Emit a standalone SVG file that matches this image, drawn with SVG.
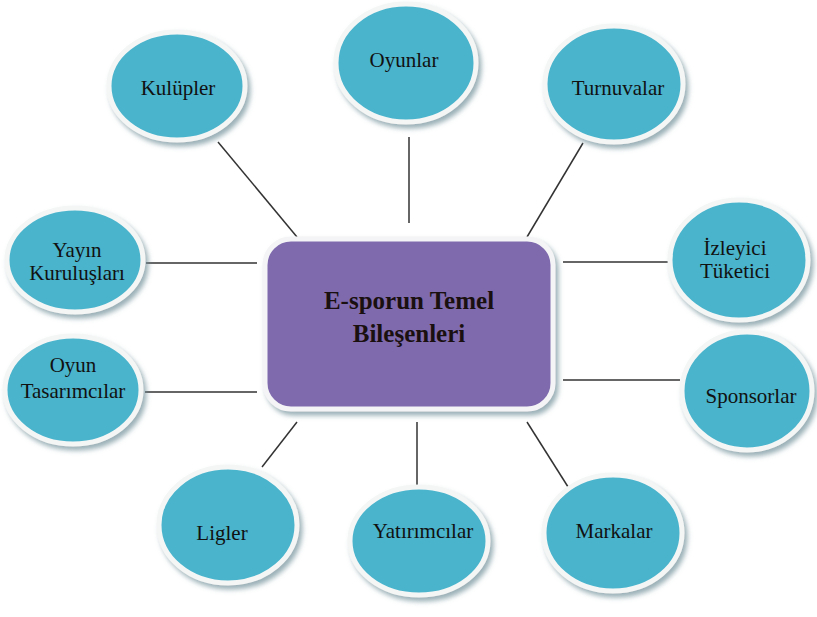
<svg xmlns="http://www.w3.org/2000/svg" width="817" height="617" viewBox="0 0 817 617">
<defs>
<filter id="sh" x="-20%" y="-20%" width="140%" height="140%">
<feGaussianBlur in="SourceAlpha" stdDeviation="2.5"/>
<feOffset dx="3" dy="4" result="b"/>
<feFlood flood-color="#6f8f98" flood-opacity="0.7"/>
<feComposite in2="b" operator="in" result="s"/>
<feMerge><feMergeNode in="s"/><feMergeNode in="SourceGraphic"/></feMerge>
</filter>
<style>
.c{fill:#4ab4cc;stroke:#f4f6f6;stroke-width:5;filter:url(#sh)}
.b{fill:#7f6bae;stroke:#f4f4f6;stroke-width:5;filter:url(#sh)}
text{font-family:'Liberation Serif','DejaVu Serif','Times New Roman',serif}
.t{font-size:21px;fill:#111;text-anchor:middle}
.h{font-size:25px;font-weight:bold;fill:#1a1010;text-anchor:middle}
.l{stroke:#333;stroke-width:1.5;fill:none}
</style>
</defs>
<rect width="817" height="617" fill="#fff"/>
<g id="connectors">
<line class="l" x1="218" y1="142" x2="297" y2="237"/>
<line class="l" x1="409" y1="137" x2="409" y2="223"/>
<line class="l" x1="583" y1="143" x2="527" y2="237"/>
<line class="l" x1="146" y1="263" x2="257" y2="263"/>
<line class="l" x1="563" y1="262" x2="668" y2="262"/>
<line class="l" x1="145" y1="392" x2="257" y2="392"/>
<line class="l" x1="563" y1="380" x2="680" y2="380"/>
<line class="l" x1="262" y1="467" x2="297" y2="422"/>
<line class="l" x1="417" y1="422" x2="417" y2="488"/>
<line class="l" x1="527" y1="422" x2="570" y2="490"/>
</g>
<g id="center">
<rect class="b" x="265" y="239" width="288" height="170" rx="26"/>
<text class="h" x="409" y="309" font-family="Liberation Serif, serif">E-sporun Temel</text>
<text class="h" x="409" y="342" font-family="Liberation Serif, serif">Bileşenleri</text>
</g>
<g id="kulupler">
<ellipse class="c" cx="177" cy="86" rx="68" ry="54"/>
<text class="t" x="178" y="95">Kulüpler</text>
</g>
<g id="oyunlar">
<ellipse class="c" cx="406" cy="63" rx="70" ry="59"/>
<text class="t" x="404" y="67">Oyunlar</text>
</g>
<g id="turnuvalar">
<ellipse class="c" cx="614" cy="84" rx="69" ry="58"/>
<text class="t" x="618" y="95">Turnuvalar</text>
</g>
<g id="yayin">
<ellipse class="c" cx="75" cy="260" rx="68" ry="52"/>
<text class="t" x="77" y="257">Yayın</text>
<text class="t" x="77" y="280">Kuruluşları</text>
</g>
<g id="izleyici">
<ellipse class="c" cx="739" cy="260" rx="69" ry="60"/>
<text class="t" x="735" y="255">İzleyici</text>
<text class="t" x="735" y="278">Tüketici</text>
</g>
<g id="oyun-tasarimcilar">
<ellipse class="c" cx="73" cy="390" rx="68" ry="54"/>
<text class="t" x="73" y="372">Oyun</text>
<text class="t" x="73" y="398">Tasarımcılar</text>
</g>
<g id="sponsorlar">
<ellipse class="c" cx="747" cy="391" rx="65" ry="59"/>
<text class="t" x="751" y="403">Sponsorlar</text>
</g>
<g id="ligler">
<ellipse class="c" cx="228" cy="525" rx="69" ry="58"/>
<text class="t" x="222" y="540">Ligler</text>
</g>
<g id="yatirimcilar">
<ellipse class="c" cx="419" cy="541" rx="69" ry="54"/>
<text class="t" x="423" y="538">Yatırımcılar</text>
</g>
<g id="markalar">
<ellipse class="c" cx="613" cy="533" rx="69" ry="58"/>
<text class="t" x="614" y="538">Markalar</text>
</g>
</svg>
